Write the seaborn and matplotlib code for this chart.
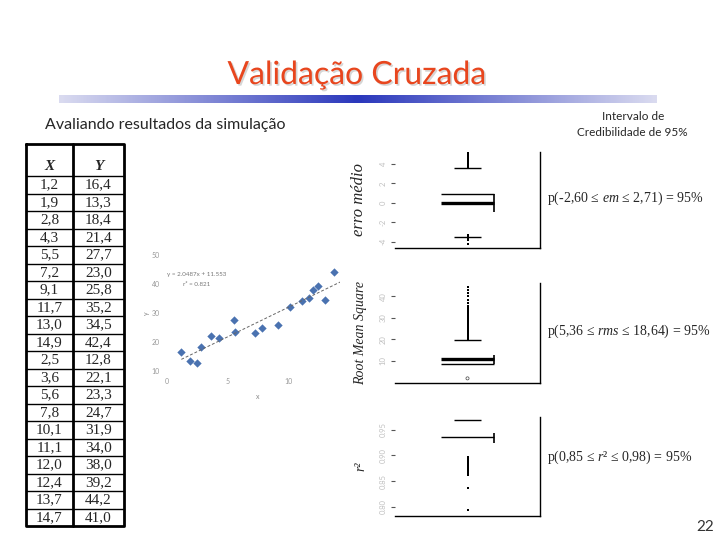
import matplotlib
matplotlib.use("Agg")
import matplotlib.pyplot as plt
import matplotlib.patheffects as pe
from matplotlib.colors import LinearSegmentedColormap
import numpy as np
import seaborn as sns

# table / scatter data
x_vals = [1.2, 1.9, 2.8, 4.3, 5.5, 7.2, 9.1, 11.7, 13.0, 14.9,
          2.5, 3.6, 5.6, 7.8, 10.1, 11.1, 12.0, 12.4, 13.7, 14.7]
y_vals = [16.4, 13.3, 18.4, 21.4, 27.7, 23.0, 25.8, 35.2, 34.5, 42.4,
          12.8, 22.1, 23.3, 24.7, 31.9, 34.0, 38.0, 39.2, 44.2, 41.0]

# box plots
em_lines = [0.9]
em_med = 0.0
em_edge = [-0.93, 0.9]
em_caps = [-3.57, 3.55]
em_out = [3.6, 3.75, 3.9, 4.05, 4.2, 4.35, 4.5, 4.7, 4.9, 5.1,
          -3.35, -3.5, -3.65, -3.8, -4.25]
em_ticks = [-4, -2, 0, 2, 4]

rms_lines = [8.4]
rms_med = 10.6
rms_edge = [8.3, 12.6]
rms_caps = [19.5]
rms_out = [44.5, 43.0, 41.5, 40.0, 38.5, 37.0, 35.5, 34.5, 33.5, 32.8,
           32.0, 31.2, 30.5, 29.8, 29.0, 28.3, 27.6, 26.9, 26.2, 25.5,
           24.8, 24.1, 23.4, 22.7, 22.0, 21.3, 20.6, 20.0]
rms_low = [1.7]
rms_ticks = [10, 20, 30, 40]

r2_lines = [0.935]
r2_med = None
r2_edge = [0.924, 0.943]
r2_caps = [0.968]
r2_out = [0.897, 0.893, 0.889, 0.885, 0.881, 0.877, 0.873, 0.869, 0.865,
          0.861, 0.836, 0.794]
r2_ticks = [0.80, 0.85, 0.90, 0.95]

sns.set_style("white")
plt.rcParams["font.family"] = ["Lato", "DejaVu Sans"]
plt.rcParams["mathtext.fontset"] = "custom"
plt.rcParams["mathtext.rm"] = "Liberation Serif"
plt.rcParams["mathtext.it"] = "Liberation Serif:italic"

fig = plt.figure(figsize=(7.2, 5.4), dpi=100)

# background axes in pixel coordinates for the slide decorations
bg = fig.add_axes([0, 0, 1, 1])
bg.set_xlim(0, 720)
bg.set_ylim(540, 0)
bg.axis("off")

bg.text(357, 75, "Validação Cruzada", fontsize=23, color="#e8461e",
        ha="center", va="center",
        path_effects=[pe.withSimplePatchShadow(offset=(1.2, -1.2),
                                               shadow_rgbFace="#bbbbbb", alpha=0.6)])
cmap = LinearSegmentedColormap.from_list("bar", ["#2b38bc", "#dadbf0"])
grad = np.abs(np.linspace(-1, 1, 300))[None, :]
bg.imshow(grad, extent=(59, 657, 103, 95), aspect="auto", cmap=cmap)
bg.set_xlim(0, 720)
bg.set_ylim(540, 0)

bg.text(45, 125, "Avaliando resultados da simulação", fontsize=11.5,
        ha="left", va="center")
bg.text(633, 117, "Intervalo de", fontsize=8.5, ha="center", va="center")
bg.text(632, 132, "Credibilidade de 95%", fontsize=8.5, ha="center", va="center")

# table
tl, tm, tr = 26, 73, 124
top, head_bot, pitch = 144, 176.3, 17.5
bottom = head_bot + pitch * len(x_vals)
bg.plot([tl, tr, tr, tl, tl], [top, top, bottom, bottom, top], color="k", lw=2)
bg.plot([tm, tm], [top, bottom], color="k", lw=2)
for i in range(len(x_vals)):
    yy = head_bot + pitch * i
    bg.plot([tl, tr], [yy, yy], color="k", lw=1)
serif = "Liberation Serif"
bg.text((tl + tm) / 2, 166, "X", family=serif, fontsize=11, fontweight="bold",
        fontstyle="italic", ha="center", va="center")
bg.text((tm + tr) / 2, 166, "Y", family=serif, fontsize=11, fontweight="bold",
        fontstyle="italic", ha="center", va="center")
for i, (xv, yv) in enumerate(zip(x_vals, y_vals)):
    yy = head_bot + pitch * (i + 0.5)
    bg.text((tl + tm) / 2, yy, f"{xv:.1f}".replace(".", ","), family=serif,
            fontsize=11, ha="center", va="center")
    bg.text((tm + tr) / 2, yy, f"{yv:.1f}".replace(".", ","), family=serif,
            fontsize=11, ha="center", va="center")

# probability texts
bg.text(547, 198, "p(-2,60 ≤ $em$ ≤ 2,71) = 95%", family=serif, fontsize=10,
        ha="left", va="center")
bg.text(547, 331, "p(5,36 ≤ $rms$ ≤ 18,64) = 95%", family=serif, fontsize=10,
        ha="left", va="center")
bg.text(547, 457, "p(0,85 ≤ $r$² ≤ 0,98) = 95%", family=serif, fontsize=10,
        ha="left", va="center")
bg.text(705, 527, "22", fontsize=11, color="#333333", ha="center", va="center")

# scatter plot with regression line
ax = fig.add_axes([166.7 / 720, 1 - 371 / 540, 173.3 / 720, 116 / 540])
sns.scatterplot(x=x_vals, y=y_vals, marker="D", color="#4a72b0", s=18,
                linewidth=0, ax=ax)
sns.regplot(x=x_vals, y=y_vals, scatter=False, ci=None, truncate=True, ax=ax,
            line_kws=dict(color="#666666", lw=0.7, ls=(0, (3, 2))))
ax.set_xlim(0, 14.2)
ax.set_ylim(10, 50)
ax.set_xticks([0, 5, 10])
ax.set_yticks([10, 20, 30, 40, 50])
sns.despine(ax=ax, left=True, bottom=True)
ax.tick_params(length=2, color="#cccccc", labelsize=5, labelcolor="#999999", pad=3)
ax.set_xlabel("x", fontsize=5, color="#888888")
ax.set_ylabel("y", fontsize=5, color="#888888")
ax.xaxis.set_label_coords(0.527, -0.19)
ax.yaxis.set_label_coords(-0.096, 0.5)
ax.text(0.175, 0.83, "y = 2.0487x + 11.553", transform=ax.transAxes,
        fontsize=4.5, color="#777777", ha="center", va="center")
ax.text(0.17, 0.75, "r² = 0.821", transform=ax.transAxes,
        fontsize=4.5, color="#777777", ha="center", va="center")

# box plot panels
box_w, cap_w = 0.735, 0.36
panels = [
    (151.7, 248.0, em_lines, em_med, em_edge, em_caps, em_out, [], (-4.67, 5.26),
     em_ticks, ["-4", "-2", "0", "2", "4"], "erro médio", 12),
    (283.0, 383.3, rms_lines, rms_med, rms_edge, rms_caps, rms_out, rms_low,
     (-0.6, 46.3), rms_ticks, ["10", "20", "30", "40"], "Root Mean Square", 10),
    (417.3, 516.0, r2_lines, r2_med, r2_edge, r2_caps, r2_out, [], (0.782, 0.974),
     r2_ticks, ["0.80", "0.85", "0.90", "0.95"], "r²", 10),
]
for (ptop, pbot, lines, med, edge, caps, out, low, ylim, ticks, tlabels,
     label, lsize) in panels:
    bx = fig.add_axes([395 / 720, 1 - pbot / 540, 145 / 720, (pbot - ptop) / 540])
    bx.hlines(lines, -box_w / 2, box_w / 2, color="k", lw=1)
    if med is not None:
        bx.hlines(med, -box_w / 2, box_w / 2, color="k", lw=2.4)
    bx.vlines(box_w / 2, edge[0], edge[1], color="k", lw=1.2)
    bx.hlines(caps, -cap_w / 2, cap_w / 2, color="k", lw=1)
    bx.scatter([0] * len(out), out, marker="s", s=3.5, color="k", linewidths=0)
    if low:
        bx.scatter([0] * len(low), low, marker="o", s=5, facecolors="none",
                   edgecolors="#444444", linewidths=0.5)
    bx.set_xlim(-1, 1)
    bx.set_ylim(*ylim)
    bx.set_xticks([])
    bx.set_yticks(ticks)
    bx.set_yticklabels(tlabels, rotation=90, va="center")
    bx.tick_params(axis="y", length=3, color="#555555", labelsize=5.5,
                   labelcolor="#c0c0c0", pad=3, left=True)
    for side in ["left", "top"]:
        bx.spines[side].set_visible(False)
    for side in ["right", "bottom"]:
        bx.spines[side].set_visible(True)
        bx.spines[side].set_color("k")
        bx.spines[side].set_linewidth(1)
    bx.set_ylabel(label, family=serif, fontstyle="italic", fontsize=lsize)
    bx.yaxis.set_label_coords(-0.19, 0.5)

fig.savefig("out.png", dpi=100)
